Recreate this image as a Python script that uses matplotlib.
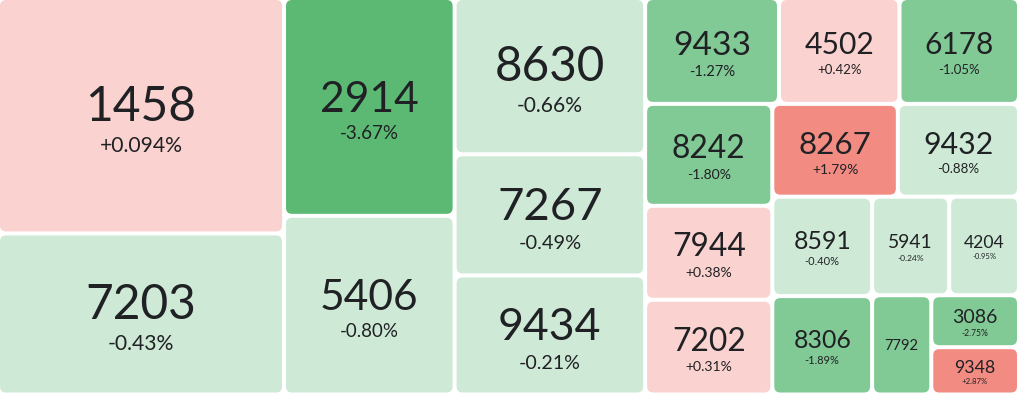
import matplotlib
matplotlib.use("Agg")
import matplotlib.pyplot as plt
from matplotlib.patches import FancyBboxPatch

# ---- data ----
labels = ["1458", "7203", "2914", "5406", "8630", "7267", "9434",
          "9433", "4502", "6178", "8242", "7944", "7202",
          "8267", "9432", "8591", "8306", "5941", "4204", "7792", "3086", "9348"]
sizes = [66.5, 45.5, 36.7, 30.1, 29.4, 22.8, 22.4,
         14.0, 12.6, 12.5, 12.8, 11.8, 11.9,
         11.5, 11.1, 9.8, 9.7, 7.5, 6.8, 5.8, 4.5, 4.1]
changes = [0.094, -0.43, -3.67, -0.80, -0.66, -0.49, -0.21,
           -1.27, 0.42, -1.05, -1.80, 0.38, 0.31,
           1.79, -0.88, -0.40, -1.89, -0.24, -0.95, -1.50, -2.75, 2.87]
change_text = ["+0.094%", "-0.43%", "-3.67%", "-0.80%", "-0.66%", "-0.49%", "-0.21%",
               "-1.27%", "+0.42%", "-1.05%", "-1.80%", "+0.38%", "+0.31%",
               "+1.79%", "-0.88%", "-0.40%", "-1.89%", "-0.24%", "-0.95%", "", "-2.75%", "+2.87%"]

W, H = 1017, 393
GAP = 2.0
TEXT = "#202124"


def color_for(c):
    if c >= 0:
        return "#FAD2CF" if c < 1 else "#F28B82"
    a = -c
    if a < 1:
        return "#CEEAD6"
    if a < 3:
        return "#81C995"
    return "#5BB974"


def worst(row, side):
    s = sum(row)
    return max(max(side * side * r / (s * s), s * s / (side * side * r)) for r in row)


def squarify(vals, x, y, w, h):
    total = sum(vals)
    vals = [v * w * h / total for v in vals]
    rects = []
    while vals:
        side = min(w, h)
        row = [vals[0]]
        i = 1
        while i < len(vals) and worst(row + [vals[i]], side) <= worst(row, side):
            row.append(vals[i])
            i += 1
        s = sum(row)
        if w >= h:
            cw = s / h
            yy = y
            for v in row:
                rh = v / cw
                rects.append((x, yy, cw, rh))
                yy += rh
            x += cw
            w -= cw
        else:
            rh = s / w
            xx = x
            for v in row:
                rw = v / rh
                rects.append((xx, y, rw, rh))
                xx += rw
            y += rh
            h -= rh
        vals = vals[i:]
    return rects


plt.rcParams['font.family'] = ['Lato', 'DejaVu Sans']
fig = plt.figure(figsize=(W / 100, H / 100), dpi=100)
ax = fig.add_axes([0, 0, 1, 1])
ax.set_xlim(0, W)
ax.set_ylim(H, 0)
ax.axis("off")

rects = squarify(sizes, -GAP, -GAP, W + 2 * GAP, H + GAP + 1.5)
for (x, y, w, h), lab, ch, ct in zip(rects, labels, changes, change_text):
    p = FancyBboxPatch((x + GAP, y + GAP), w - 2 * GAP, h - 2 * GAP,
                       boxstyle="round,pad=0,rounding_size=6",
                       fc=color_for(ch), ec="none")
    ax.add_patch(p)
    cx = x + w / 2
    cy = y + h / 2
    c = min(0.18 * w, 0.27 * h, 34.5)
    if ct and c >= 10.5:
        ax.text(cx, cy + 0.15 * c, lab, ha="center", va="baseline",
                fontsize=c, color=TEXT)
        ax.text(cx, cy + 1.05 * c, ct, ha="center", va="baseline",
                fontsize=0.44 * c, color=TEXT)
    else:
        ax.text(cx, cy + 0.5 * c, lab, ha="center", va="baseline",
                fontsize=c, color=TEXT)

fig.savefig("out.png", dpi=100, facecolor="white")
